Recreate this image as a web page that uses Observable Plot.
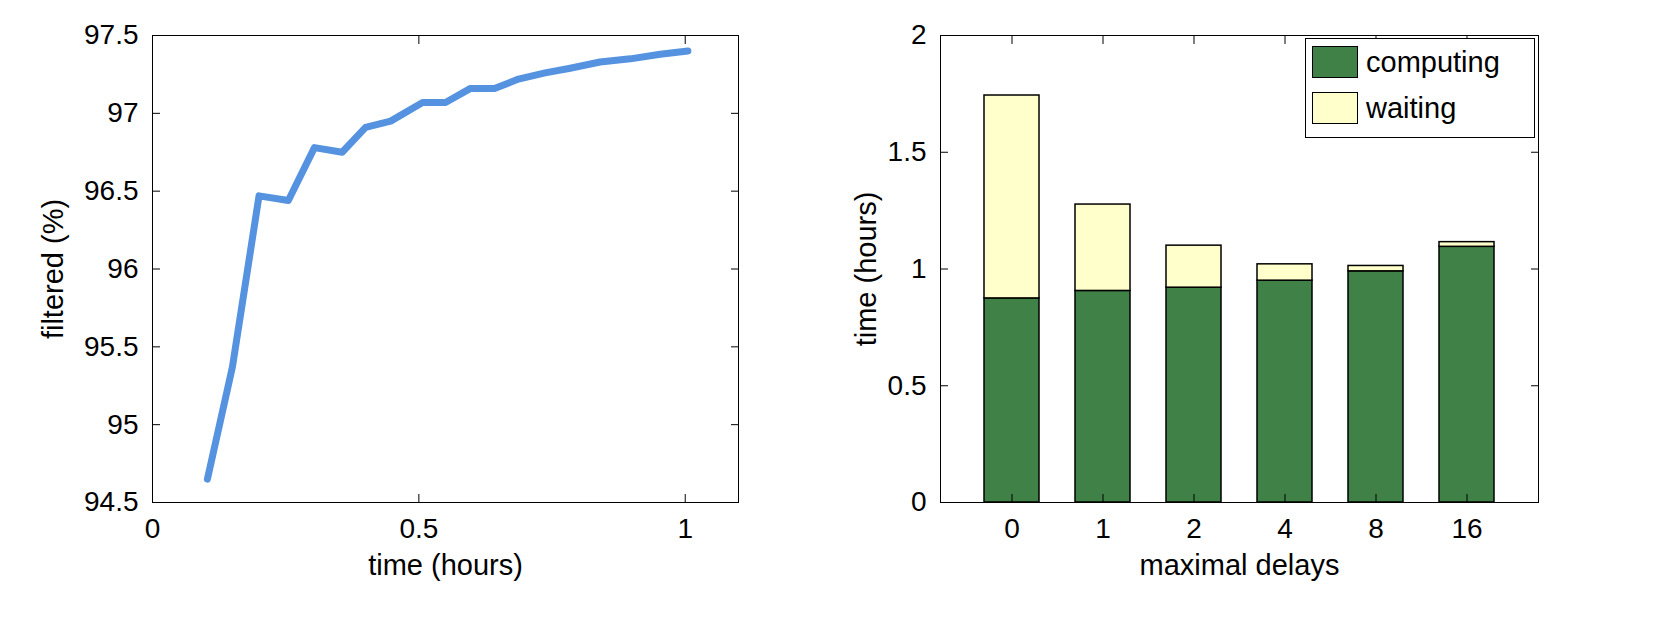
<!DOCTYPE html>
<html><head><meta charset="utf-8">
<script src="https://cdn.jsdelivr.net/npm/d3@7"></script>
<script src="https://cdn.jsdelivr.net/npm/@observablehq/plot@0.6"></script>
<style>
body{margin:0;background:#fff;font-family:"Liberation Sans",Arial,sans-serif}
#wrap{display:flex;position:relative;width:1660px;height:631px}
#legend{position:absolute;left:1305px;top:38px;width:228px;height:98px;border:1.5px solid #000;background:#fff;font-size:29px}
#legend div{display:flex;align-items:center;height:46px;padding-left:6px}
#legend span{display:inline-block;width:44px;height:30px;border:1.5px solid #000;margin-right:8px}
</style></head>
<body><div id="wrap"><div id="left"></div><div id="right"></div>
<div id="legend"><div><span style="background:#3f8147"></span>computing</div><div><span style="background:#ffffcc"></span>waiting</div></div></div>
<script>
// left: filtered percentage over time
const times = [0.103,0.15,0.2,0.255,0.304,0.356,0.40,0.447,0.507,0.55,0.597,0.642,0.687,0.737,0.784,0.84,0.897,0.953,1.005];
const filtered = [94.65,95.37,96.47,96.44,96.78,96.75,96.91,96.95,97.07,97.07,97.16,97.16,97.22,97.26,97.29,97.33,97.35,97.38,97.40];
// right: stacked bars
const delays = ["0","1","2","4","8","16"];
const computing = [0.874,0.906,0.92,0.95,0.99,1.095];
const total = [1.743,1.276,1.10,1.02,1.013,1.115];

const lineData = times.map((t,i)=>({t, v: filtered[i]}));
const barData = [];
delays.forEach((d,i)=>{
  barData.push({d, kind:"computing", v: computing[i]});
  barData.push({d, kind:"waiting", v: total[i]-computing[i]});
});

const common = {width:830, height:631, style:{fontSize:"28px", fontFamily:"Liberation Sans, Arial, sans-serif", color:"#000"}};

const left = Plot.plot({
  ...common,
  marginLeft:152, marginRight:92, marginTop:35, marginBottom:129,
  x:{domain:[0,1.1]}, y:{domain:[94.5,97.5]},
  marks:[
    Plot.frame({stroke:"#000"}),
    Plot.axisX({ticks:[0,0.5,1], tickFormat:d=>d===0?"0":String(d), tickSize:-8, tickPadding:24, fontSize:28, label:"time (hours)", labelAnchor:"center", labelOffset:72, labelArrow:"none"}),
    Plot.axisX({anchor:"top", ticks:[0,0.5,1], tickFormat:()=>"", tickSize:-8, label:null}),
    Plot.axisY({ticks:d3.range(94.5,97.51,0.5), tickFormat:d=>String(+d.toFixed(1)), tickSize:-8, tickPadding:22, fontSize:28, label:"filtered (%)", labelAnchor:"center", labelOffset:110, labelArrow:"none"}),
    Plot.axisY({anchor:"right", ticks:d3.range(94.5,97.51,0.5), tickFormat:()=>"", tickSize:-8, label:null}),
    Plot.line(lineData, {x:"t", y:"v", stroke:"#5592e0", strokeWidth:7})
  ]
});

const right = Plot.plot({
  ...common,
  marginLeft:110, marginRight:122, marginTop:35, marginBottom:129,
  x:{domain:delays, paddingInner:0.4, paddingOuter:0.485},
  y:{domain:[0,2]},
  color:{domain:["computing","waiting"], range:["#3f8147","#ffffcc"]},
  marks:[
    Plot.frame({stroke:"#000"}),
    Plot.barY(barData, {x:"d", y:"v", fill:"kind", stroke:"#000", strokeWidth:1.5}),
    Plot.axisX({tickSize:-8, tickPadding:24, fontSize:28, label:"maximal delays", labelAnchor:"center", labelOffset:72, labelArrow:"none"}),
    Plot.axisX({anchor:"top", tickFormat:()=>"", tickSize:-8, label:null}),
    Plot.axisY({ticks:[0,0.5,1,1.5,2], tickFormat:d=>String(d), tickSize:-8, tickPadding:22, fontSize:28, label:"time (hours)", labelAnchor:"center", labelOffset:85, labelArrow:"none"}),
    Plot.axisY({anchor:"right", ticks:[0,0.5,1,1.5,2], tickFormat:()=>"", tickSize:-8, label:null})
  ]
});

document.getElementById("left").append(left);
document.getElementById("right").append(right);
d3.selectAll("svg g[aria-label='x-axis label'] text, svg g[aria-label='y-axis label'] text").style("font-size","29px");
</script></body></html>
